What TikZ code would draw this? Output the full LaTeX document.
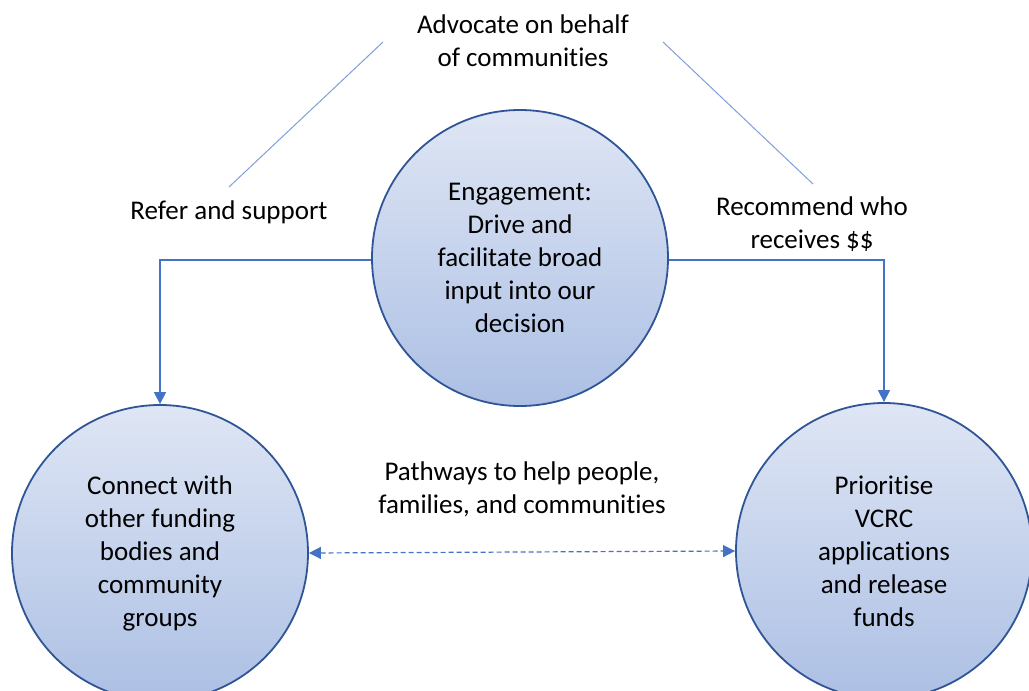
\documentclass[tikz,border=0pt]{standalone}
\usepackage{fontspec}
\setmainfont[Ligatures={NoCommon}]{Carlito}
\usetikzlibrary{arrows.meta}
\definecolor{rimblue}{HTML}{2F5597}
\definecolor{linkblue}{HTML}{4472C4}
\definecolor{thinblue}{HTML}{7F9FD6}
\definecolor{shtop}{HTML}{F0F3FA}
\definecolor{shmid}{HTML}{A9BDE3}
\definecolor{shbot}{HTML}{C9D6EF}
\pgfdeclareverticalshading{circshade}{100bp}{color(0bp)=(shbot); color(8bp)=(shbot); color(22bp)=(shmid); color(92bp)=(shtop); color(100bp)=(shtop)}
\tikzset{
  bubble/.style={circle, draw=rimblue, line width=1.8pt, shading=circshade, minimum size=296pt, inner sep=0pt, align=center, font=\fontsize{27}{33}\selectfont},
  lbl/.style={align=center, font=\fontsize{27}{33}\selectfont, inner sep=0pt},
  link/.style={draw=linkblue, line width=1.3pt, -{Triangle[length=12pt,width=12pt]}},
  thin/.style={draw=thinblue, line width=1pt}
}
\begin{document}
\begin{tikzpicture}[x=1pt,y=-1pt]
\useasboundingbox (0,0) rectangle (1029,691);
\node[bubble] (top) at (520,258) {Engagement:\\Drive and\\facilitate broad\\input into our\\decision};
\node[bubble] (left) at (160,553) {Connect with\\other funding\\bodies and\\community\\groups};
\node[bubble] (right) at (884,551) {Prioritise\\VCRC\\applications\\and release\\funds};
\node[lbl] (adv) at (523,41) {Advocate on behalf\\of communities};
\node[lbl] (refer) at (229,212) {Refer and support};
\node[lbl] (rec) at (812,224) {Recommend who\\receives \$\$};
\node[lbl] (path) at (522,489) {Pathways to help people,\\families, and communities};
\coordinate (a1) at (383,42);
\coordinate (a2) at (229,187);
\coordinate (b1) at (663,42);
\coordinate (b2) at (813,184);
\draw[thin] (a1) -- (a2);
\draw[thin] (b1) -- (b2);
\draw[link] (top.west |- 0,260) -| (left.north);
\draw[link] (top.east |- 0,260) -| (right.north);
\draw[draw=linkblue, line width=1.2pt, dash pattern=on 5pt off 3pt, {Triangle[length=12pt,width=12pt]}-{Triangle[length=12pt,width=12pt]}] (left.east) -- (right.west);
\end{tikzpicture}
\end{document}
